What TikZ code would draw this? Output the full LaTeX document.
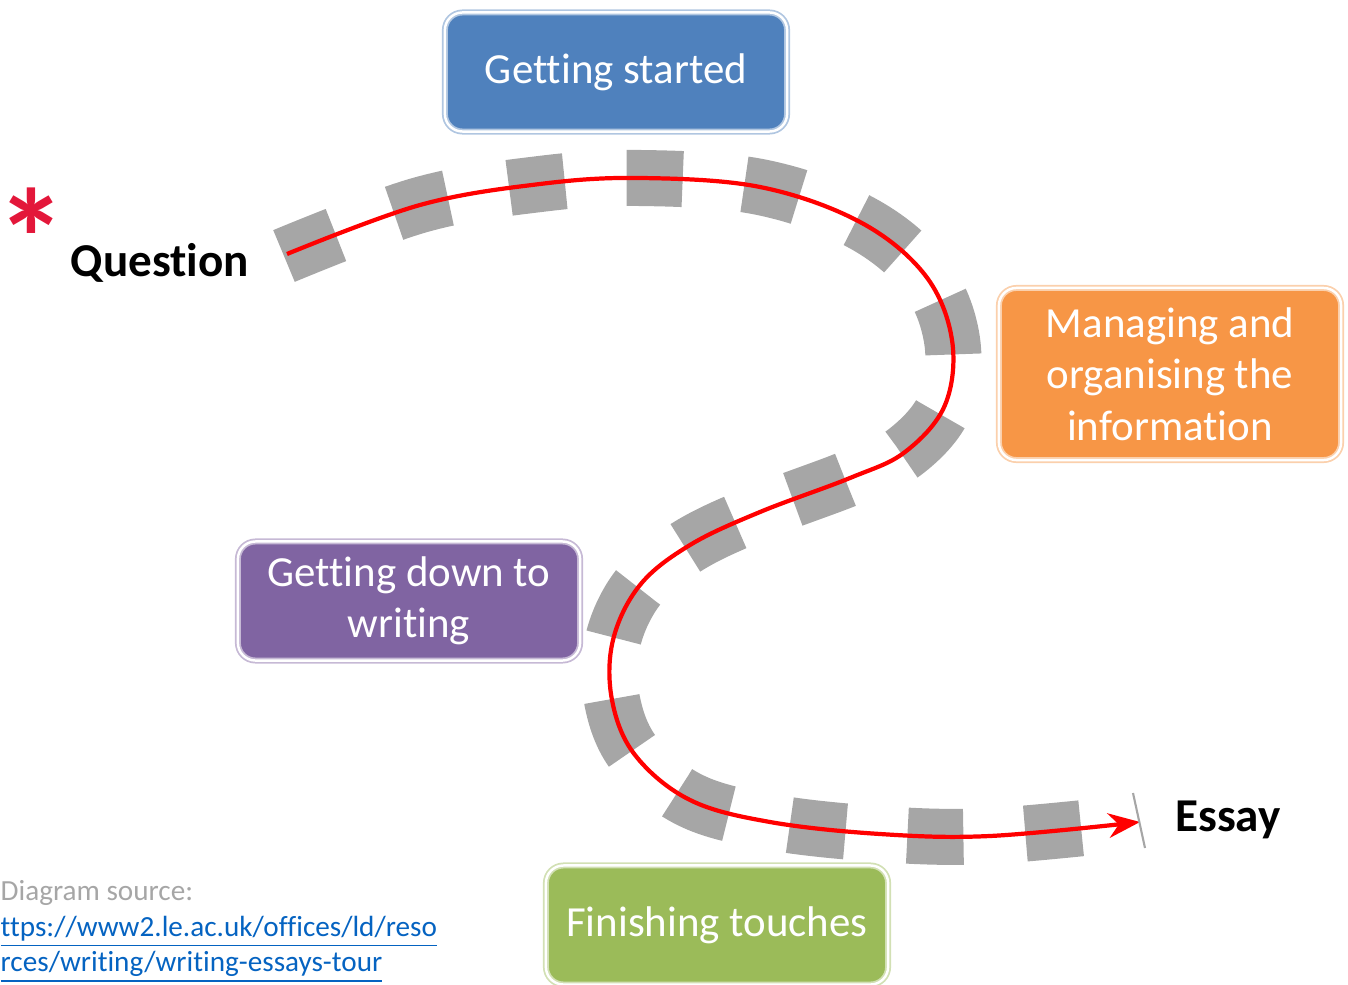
\documentclass[tikz,border=0pt]{standalone}
\usepackage{fontspec}
\setmainfont[Ligatures={NoCommon}]{Carlito}
\usepackage{xcolor}
\usetikzlibrary{positioning,arrows.meta}

\definecolor{startblue}{HTML}{4F81BD}
\definecolor{manageorange}{HTML}{F79646}
\definecolor{writepurple}{HTML}{8064A2}
\definecolor{finishgreen}{HTML}{9BBB59}
\definecolor{roadgray}{HTML}{A6A6A6}
\definecolor{starred}{HTML}{E3173A}
\definecolor{linkblue}{HTML}{0563C1}

\begin{document}
\begin{tikzpicture}[x=0.01cm,y=-0.01cm,
    box/.style={rectangle, rounded corners=5pt, draw=#1!45!white, double=white,
      double distance=0.7pt, line width=0.5pt, fill=#1, text=white, align=center,
      minimum width=3.42cm, minimum height=1.19cm, font=\fontsize{12.2}{14.6}\selectfont},
    road/.style={draw=roadgray, line width=0.56cm, dash pattern=on 0.56cm off 0.62cm},
    redline/.style={draw=red, line width=1.2pt},
    label/.style={font=\fontsize{13.4}{15}\selectfont\bfseries},
    source/.style={anchor=base west, inner sep=0pt, font=\fontsize{8.3}{10}\selectfont}]
  \useasboundingbox (0,0) rectangle (1348,985);

  % the winding road
  \draw[road] plot[smooth, tension=0.6] coordinates {(284,256) (420,205) (540,184) (640,178) (760,187)
    (860,222) (925,275) (952,340) (945,405) (905,452) (850,478) (760,512) (690,545) (640,585)
    (613,640) (612,700) (635,755) (690,800) (770,822) (880,834) (990,836) (1140,822)};
  \draw[redline, -{Stealth[length=9pt, width=7pt]}] plot[smooth, tension=0.6] coordinates {(287,254) (420,205) (540,184) (640,178) (760,187)
    (860,222) (925,275) (952,340) (945,405) (905,452) (850,478) (760,512) (690,545) (640,585)
    (613,640) (612,700) (635,755) (690,800) (770,822) (880,834) (990,836) (1140,822)};
  \draw[roadgray, line width=0.6pt] (1133,793) -- (1145,848);

  % stages
  \node[box=startblue] (start) at (616,72) {Getting started};
  \node[box=manageorange, minimum height=1.72cm] (manage) at (1170,374) {Managing and\\organising the\\information};
  \node[box=writepurple] (writing) at (409,601) {Getting down to\\writing};
  \node[box=finishgreen] (finish) at (717,925) {Finishing touches};

  % ends of the road
  \node[text=starred, font=\fontsize{40}{42}\selectfont\bfseries] (star) at (32,238) {*};
  \node[label] (question) at (160,263) {Question};
  \node[label] (essay) at (1228,820) {Essay};

  % source
  \node[source, text=black!35] (src) at (0,900) {Diagram source:};
  \node[source, text=linkblue] (linkA) at (0,936) {\underline{ttps://www2.le.ac.uk/offices/ld/reso}};
  \node[source, text=linkblue] (linkB) at (0,971) {\underline{rces/writing/writing-essays-tour}};
\end{tikzpicture}
\end{document}
